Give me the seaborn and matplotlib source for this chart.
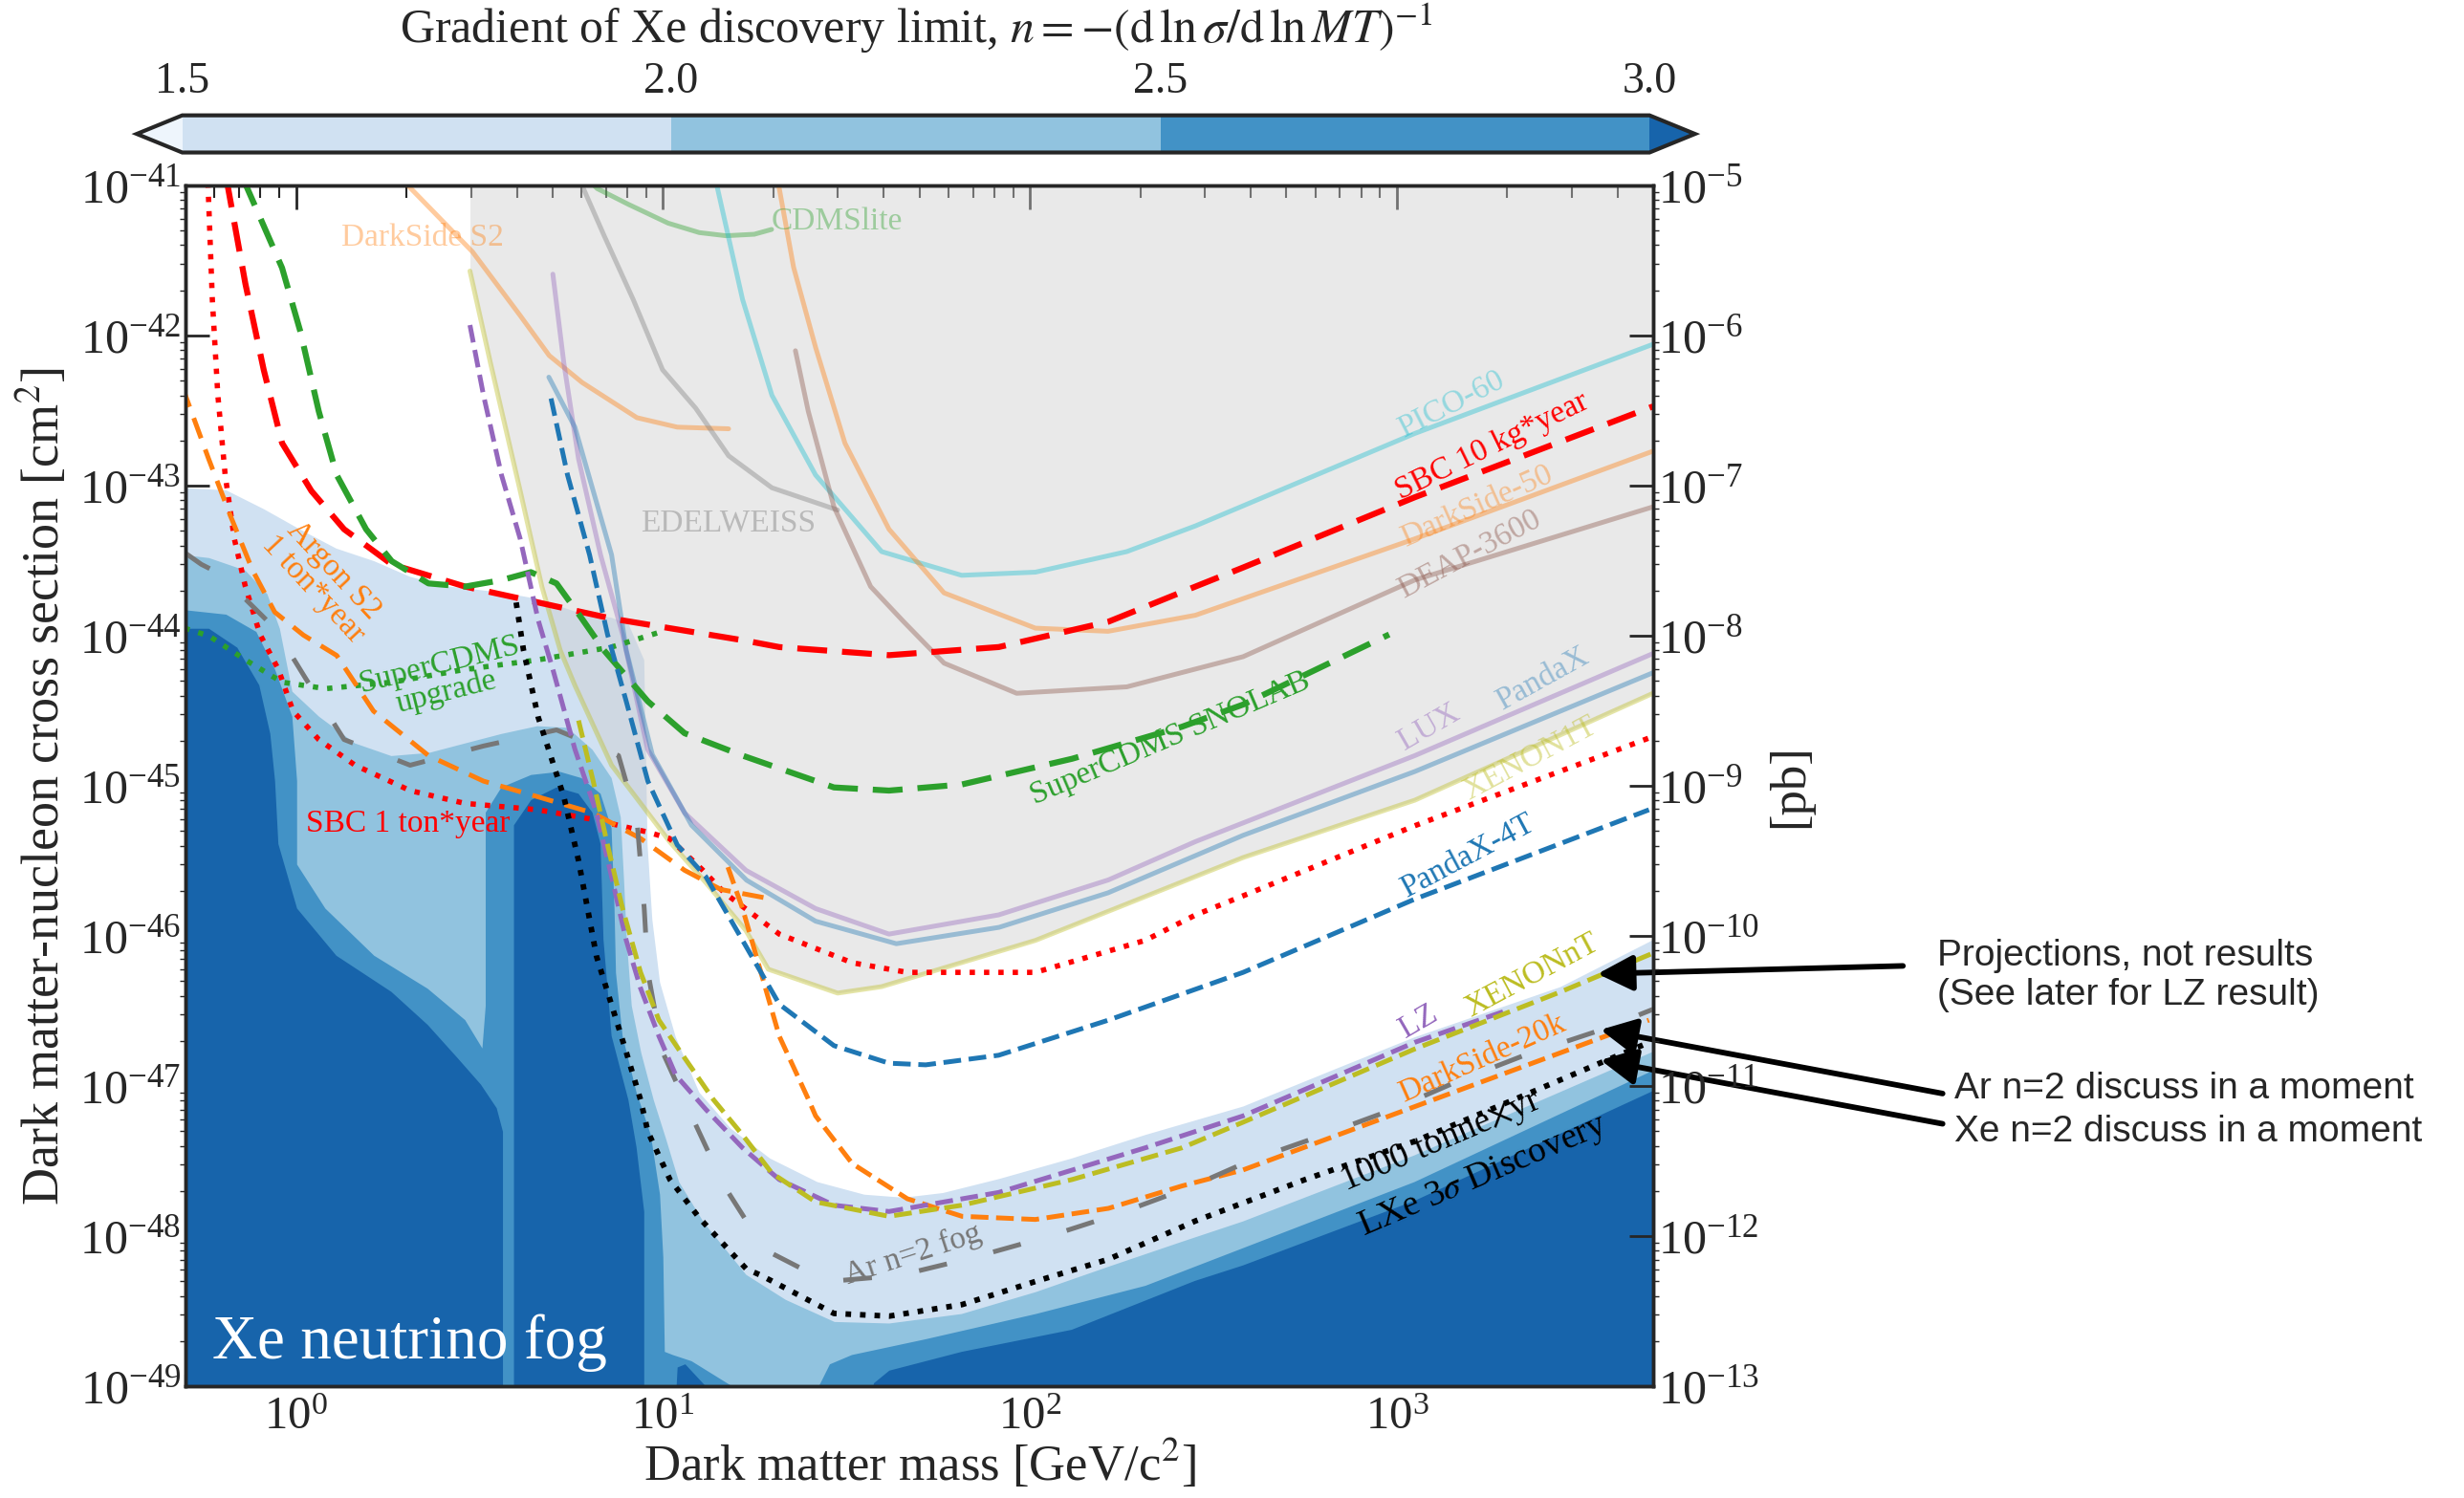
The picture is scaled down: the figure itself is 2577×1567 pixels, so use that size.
import numpy as np
import matplotlib
matplotlib.use("Agg")
import matplotlib.pyplot as plt
import matplotlib.colors as mcolors
import matplotlib.cm as mcm
from matplotlib.ticker import LogLocator, NullFormatter, FormatStrFormatter
import seaborn as sns

sns.set_style("ticks")
plt.rcParams["font.family"] = ["Liberation Serif", "DejaVu Serif"]
plt.rcParams["mathtext.fontset"] = "stix"

# ---------------- data: log10(mass / GeV), log10(sigma / cm^2) ----------------
# neutrino-fog gradient regions (n >= level)
fog15_m = [-0.35, -0.35, -0.190, -0.087, 0.012, 0.110, 0.213, 0.311, 0.410, 0.560, 0.658, 0.760, 0.860, 0.906,
           0.949, 0.953, 0.958, 0.971, 0.992, 1.035, 1.099, 1.185, 1.292, 1.421, 1.549, 1.656, 1.763, 1.917,
           2.114, 2.315, 2.581, 2.834, 3.048, 3.446, 3.699, 3.75, 3.75]
fog15_s = [-49.1, -43.010, -43.031, -43.157, -43.293, -43.419, -43.503, -43.607, -43.670, -43.712, -43.754,
           -43.838, -43.880, -43.921, -44.162, -44.686, -45.387, -45.890, -46.309, -46.675, -47.042, -47.283,
           -47.482, -47.639, -47.723, -47.743, -47.712, -47.618, -47.482, -47.325, -47.136, -46.885, -46.675,
           -46.340, -46.026, -45.98, -49.1]
fog20_m = [-0.35, -0.35, -0.237, -0.138, -0.078, -0.044, -0.010, 0.063, 0.161, 0.260, 0.363, 0.461, 0.560, 0.658,
           0.740, 0.808, 0.860, 0.885, 0.894, 0.902, 0.915, 0.941, 0.975, 1.009, 1.044, 1.112, 1.227, 1.335,
           1.468, 1.617, 1.814, 2.016, 2.213, 2.414, 2.581, 3.048, 3.699, 3.75, 3.75]
fog20_s = [-49.1, -43.450, -43.482, -43.565, -43.723, -43.953, -44.372, -44.539, -44.717, -44.801, -44.780,
           -44.717, -44.654, -44.602, -44.613, -44.759, -44.948, -45.209, -45.628, -46.047, -46.466, -46.780,
           -47.094, -47.356, -47.639, -47.911, -48.257, -48.424, -48.571, -48.581, -48.518, -48.372, -48.204,
           -48.037, -47.901, -47.461, -46.770, -46.72, -49.1]
fog25_m = [-0.35, -0.35, -0.190, -0.108, -0.057, -0.010, 0.003, 0.003, 0.080, 0.213, 0.359, 0.461, 0.508, 0.517,
           0.517, 0.560, 0.641, 0.719, 0.778, 0.830, 0.860, 0.868, 0.872, 0.890, 0.928, 0.967, 0.992, 1.001,
           1.005, 1.027, 1.078, 1.189, 1.206, 1.425, 1.425, 1.455, 1.515, 1.716, 2.016, 2.315, 2.581, 3.048,
           3.699, 3.75, 3.75]
fog25_s = [-49.1, -43.817, -43.859, -43.974, -44.225, -44.539, -44.969, -45.524, -45.817, -46.131, -46.351,
           -46.560, -46.749, -46.466, -45.178, -45.010, -44.927, -44.906, -44.948, -45.052, -45.283, -45.817,
           -46.246, -46.665, -47.042, -47.325, -47.723, -48.141, -48.770, -48.791, -48.832, -49.0, -49.084,
           -49.084, -49.0, -48.853, -48.791, -48.686, -48.518, -48.330, -48.079, -47.639, -46.895, -46.85, -49.1]
fog30a_m = [-0.35, -0.35, -0.237, -0.160, -0.100, -0.070, -0.057, -0.048, 0.003, 0.110, 0.260, 0.359, 0.440,
            0.504, 0.547, 0.564, 0.564]
fog30a_s = [-49.1, -43.953, -43.953, -44.079, -44.330, -44.654, -44.969, -45.387, -45.817, -46.131, -46.372,
            -46.592, -46.812, -46.990, -47.147, -47.304, -49.1]
fog30b_m = [0.594, 0.594, 0.641, 0.710, 0.770, 0.808, 0.830, 0.838, 0.860, 0.906, 0.928, 0.949, 0.949]
fog30b_s = [-49.1, -45.262, -45.094, -45.010, -45.052, -45.178, -45.387, -46.026, -46.665, -47.094, -47.408,
            -47.838, -49.1]
fog30c_m = [1.035, 1.040, 1.061, 1.155]
fog30c_s = [-49.1, -48.874, -48.853, -49.1]
fog30d_m = [1.566, 1.575, 1.617, 1.814, 2.114, 2.449, 2.581, 3.048, 3.699, 3.75, 3.75]
fog30d_s = [-49.1, -48.979, -48.895, -48.770, -48.623, -48.298, -48.194, -47.764, -47.031, -46.98, -49.1]

# colour bar levels
level_bounds = [1.5, 2.0, 2.5, 3.0]
level_colors = ["#d0e1f2", "#91c3df", "#4292c6"]
under_color = "#eef5fc"
over_color = "#1764ab"

# existing limits
darkside_s2_m = [0.285, 0.481, 0.611, 0.690, 0.780, 0.929, 1.039, 1.179]
darkside_s2_s = [-40.95, -41.442, -41.867, -42.133, -42.313, -42.547, -42.610, -42.621]
cdmslite_m = [0.804, 0.821, 0.906, 1.014, 1.099, 1.172, 1.249, 1.296]
cdmslite_s = [-40.979, -41.021, -41.126, -41.251, -41.314, -41.335, -41.325, -41.293]
edelweiss_m = [0.776, 0.840, 0.919, 0.999, 1.089, 1.179, 1.297, 1.476]
edelweiss_s = [-40.98, -41.336, -41.760, -42.228, -42.483, -42.801, -43.014, -43.162]
pico_m = [1.145, 1.217, 1.297, 1.416, 1.596, 1.814, 2.015, 2.264, 2.451, 3.049, 3.698, 3.75]
pico_s = [-40.98, -41.760, -42.398, -42.929, -43.439, -43.597, -43.576, -43.439, -43.268, -42.652, -42.058, -42.01]
darkside50_m = [1.314, 1.356, 1.416, 1.496, 1.616, 1.766, 2.015, 2.213, 2.451, 3.049, 3.698]
darkside50_s = [-40.98, -41.545, -42.079, -42.717, -43.290, -43.714, -43.949, -43.970, -43.863, -43.354, -42.770]
deap_m = [1.361, 1.396, 1.466, 1.566, 1.656, 1.766, 1.964, 2.264, 2.581, 3.049, 3.698]
deap_s = [-42.101, -42.504, -43.141, -43.672, -43.906, -44.182, -44.383, -44.340, -44.139, -43.628, -43.141]
lux_m = [0.700, 0.730, 0.770, 0.830, 0.890, 0.958, 1.059, 1.226, 1.416, 1.616, 1.915, 2.214, 2.451, 3.049, 3.698]
lux_s = [-41.591, -42.185, -42.822, -43.461, -43.991, -44.755, -45.180, -45.562, -45.817, -45.987, -45.859,
         -45.626, -45.371, -44.798, -44.118]
pandax_m = [0.689, 0.760, 0.860, 0.900, 0.971, 1.078, 1.228, 1.416, 1.636, 1.916, 2.213, 2.581, 3.049, 3.698]
pandax_s = [-42.277, -42.610, -43.461, -44.096, -44.791, -45.262, -45.628, -45.901, -46.051, -45.942, -45.712,
            -45.329, -44.904, -44.246]
xenon1t_m = [0.474, 0.530, 0.611, 0.670, 0.720, 0.760, 0.860, 0.959, 1.018, 1.118, 1.226, 1.287, 1.476, 1.596,
             2.015, 2.581, 3.049, 3.698, 3.75]
xenon1t_s = [-41.570, -42.183, -43.035, -43.672, -44.096, -44.330, -44.862, -45.180, -45.371, -45.647, -45.963,
             -46.221, -46.380, -46.337, -46.029, -45.477, -45.095, -44.383, -44.33]

# projections
sbc1_m = [-0.240, -0.228, -0.213, -0.193, -0.168, -0.138, -0.098, -0.048, -0.008, 0.062, 0.161, 0.311, 0.460,
          0.660, 0.809, 0.959, 1.018, 1.109, 1.167, 1.317, 1.516, 1.666, 2.015, 2.314, 2.451, 2.581, 3.049, 3.687]
sbc1_s = [-40.98, -41.760, -42.398, -42.929, -43.354, -43.672, -43.991, -44.224, -44.501, -44.691, -44.862,
          -45.031, -45.116, -45.159, -45.223, -45.308, -45.350, -45.562, -45.711, -45.987, -46.178, -46.242,
          -46.242, -46.029, -45.860, -45.732, -45.265, -44.681]
sbc10_m = [-0.19, -0.138, -0.088, -0.038, 0.042, 0.131, 0.261, 0.461, 0.660, 0.860, 1.018, 1.226, 1.317, 1.616,
           1.915, 2.214, 2.451, 2.581, 3.049, 3.698]
sbc10_s = [-40.95, -41.654, -42.228, -42.716, -43.035, -43.290, -43.524, -43.672, -43.778, -43.885, -43.949,
           -44.033, -44.075, -44.129, -44.075, -43.906, -43.672, -43.545, -43.077, -42.472]
snolab_m = [-0.145, -0.038, 0.012, 0.062, 0.111, 0.191, 0.261, 0.361, 0.461, 0.560, 0.640, 0.710, 0.779, 0.839,
            0.959, 1.059, 1.217, 1.466, 1.616, 1.815, 2.115, 2.414, 2.581, 2.979]
snolab_s = [-40.95, -41.549, -41.974, -42.504, -42.929, -43.290, -43.503, -43.651, -43.672, -43.629, -43.576,
            -43.651, -43.885, -44.096, -44.437, -44.649, -44.798, -45.010, -45.031, -44.990, -44.819, -44.606,
            -44.458, -43.991]
cdms_up_m = [-0.304, -0.237, -0.138, -0.038, 0.081, 0.261, 0.461, 0.660, 0.860, 0.999]
cdms_up_s = [-43.949, -44.001, -44.160, -44.309, -44.352, -44.309, -44.224, -44.160, -44.075, -43.970]
argon_m = [-0.310, -0.238, -0.178, -0.118, -0.058, 0.020, 0.111, 0.211, 0.361, 0.511, 0.660, 0.809, 0.939,
           1.059, 1.158, 1.297]
argon_s = [-42.34, -42.822, -43.205, -43.565, -43.842, -43.995, -44.131, -44.501, -44.798, -44.968, -45.073,
           -45.180, -45.350, -45.562, -45.690, -45.754]
ds20k_m = [1.177, 1.217, 1.267, 1.317, 1.337, 1.397, 1.416, 1.516, 1.666, 1.815, 2.015, 2.214, 2.414, 2.581,
           3.049, 3.687]
ds20k_s = [-45.541, -45.817, -46.242, -46.667, -46.773, -47.091, -47.198, -47.516, -47.750, -47.867, -47.888,
           -47.814, -47.665, -47.558, -47.136, -46.560]
lz_m = [0.474, 0.511, 0.560, 0.611, 0.660, 0.700, 0.760, 0.819, 0.860, 0.900, 0.939, 0.989, 1.035, 1.117, 1.217,
        1.317, 1.466, 1.616, 1.915, 2.314, 2.581, 3.049, 3.298]
lz_s = [-41.930, -42.398, -42.929, -43.354, -43.895, -44.224, -44.755, -45.180, -45.605, -46.029, -46.348,
        -46.667, -46.927, -47.155, -47.411, -47.622, -47.793, -47.835, -47.708, -47.411, -47.198, -46.708, -46.497]
xnt_m = [0.770, 0.810, 0.849, 0.890, 0.939, 0.989, 1.048, 1.138, 1.217, 1.297, 1.416, 1.616, 1.815, 2.115, 2.414,
         2.581, 3.049, 3.448, 3.698]
xnt_s = [-44.564, -44.969, -45.393, -45.817, -46.242, -46.560, -46.773, -47.091, -47.325, -47.580, -47.771,
         -47.867, -47.793, -47.622, -47.411, -47.240, -46.752, -46.370, -46.114]
pandax4t_m = [0.695, 0.740, 0.800, 0.849, 0.900, 0.959, 1.039, 1.117, 1.217, 1.317, 1.466, 1.616, 1.716, 1.915,
              2.214, 2.581, 3.049, 3.687]
pandax4t_s = [-42.419, -42.929, -43.461, -43.991, -44.437, -44.969, -45.393, -45.605, -46.029, -46.454, -46.730,
              -46.847, -46.858, -46.794, -46.560, -46.242, -45.754, -45.159]
tonne_m = [0.600, 0.620, 0.660, 0.730, 0.770, 0.819, 0.900, 0.939, 0.959, 1.019, 1.099, 1.227, 1.267, 1.466,
           1.616, 1.815, 2.015, 2.214, 2.451, 2.750, 3.049, 3.348, 3.548, 3.687]
tonne_s = [-43.778, -44.096, -44.542, -45.073, -45.498, -46.136, -46.773, -47.091, -47.304, -47.622, -47.877,
           -48.217, -48.260, -48.514, -48.532, -48.455, -48.301, -48.153, -47.898, -47.622, -47.367, -47.06,
           -46.852, -46.709]
ar_m = [-0.301, -0.258, -0.208, -0.058, 0.022, 0.131, 0.311, 0.511, 0.710, 0.879, 0.929, 0.949, 0.959, 0.999,
        1.078, 1.167, 1.277, 1.447, 1.646, 1.845, 2.045, 2.234, 2.434, 2.601, 2.800, 2.989, 3.169, 3.348, 3.558,
        3.699]
ar_s = [-43.450, -43.524, -43.586, -43.949, -44.267, -44.691, -44.862, -44.734, -44.627, -44.798, -45.223,
        -45.817, -46.242, -46.773, -47.198, -47.665, -48.089, -48.302, -48.260, -48.142, -48.005, -47.856,
        -47.675, -47.495, -47.325, -47.155, -46.964, -46.794, -46.624, -46.487]

# axis ranges
mass_range = (0.5, 5000.0)
sigma_range = (1e-49, 1e-41)
pb_per_cm2 = 1e36

# labels: text, log10 m, log10 sigma, rotation, colour, alpha, size
labels = [
    ("DarkSide S2", 0.346, -41.346, 0, "#ff7f0e", 0.4, 24),
    ("CDMSlite", 1.474, -41.241, 0, "#2ca02c", 0.4, 24),
    ("EDELWEISS", 1.178, -43.247, 0, "#7f7f7f", 0.45, 24),
    ("PICO-60", 3.149, -42.462, 27, "#17becf", 0.4, 24),
    ("SBC 10 kg*year", 3.259, -42.735, 26, "#ff0000", 1.0, 24),
    ("DarkSide-50", 3.219, -43.141, 24, "#ff7f0e", 0.4, 24),
    ("DEAP-3600", 3.199, -43.460, 28, "#8c564b", 0.45, 24),
    ("LUX", 3.089, -44.606, 30, "#9467bd", 0.45, 24),
    ("PandaX", 3.398, -44.285, 29, "#1f77b4", 0.4, 24),
    ("XENON1T", 3.363, -44.816, 28, "#bcbd22", 0.45, 24),
    ("PandaX-4T", 3.194, -45.467, 28, "#1f77b4", 1.0, 24),
    ("LZ", 3.059, -46.571, 30, "#9467bd", 1.0, 24),
    ("XENONnT", 3.368, -46.263, 28, "#bcbd22", 1.0, 24),
    ("DarkSide-20k", 3.234, -46.816, 24, "#ff7f0e", 1.0, 24),
    ("1000 tonne$\\times$yr", 3.119, -47.367, 23, "#000000", 1.0, 27),
    ("LXe 3$\\sigma$ Discovery", 3.234, -47.601, 23, "#000000", 1.0, 27),
    ("Ar n=2 fog", 1.681, -48.122, 18, "#777777", 1.0, 24),
    ("SuperCDMS SNOLAB", 2.382, -44.681, 23, "#2ca02c", 1.0, 24),
    ("SuperCDMS\nupgrade", 0.40, -44.285, 14, "#2ca02c", 1.0, 24),
    ("Argon S2\n1 ton*year", 0.075, -43.629, -47, "#ff7f0e", 1.0, 24),
    ("SBC 1 ton*year", 0.304, -45.254, 0, "#ff0000", 1.0, 24),
]

# ---------------- figure ----------------
fig = plt.figure(figsize=(25.77, 15.67), dpi=100)
ax = fig.add_axes([0.0753, 0.0745, 0.5957, 0.8017])
ax.set_xscale("log")
ax.set_yscale("log")


def P(a):
    return np.power(10.0, np.asarray(a, dtype=float))


fog_layers = [
    (fog15_m, fog15_s, level_colors[0]),
    (fog20_m, fog20_s, level_colors[1]),
    (fog25_m, fog25_s, level_colors[2]),
    (fog30a_m, fog30a_s, over_color),
    (fog30b_m, fog30b_s, over_color),
    (fog30c_m, fog30c_s, over_color),
    (fog30d_m, fog30d_s, over_color),
]
for lm, ls, col in fog_layers:
    ax.fill(P(lm), P(ls), color=col, lw=0, zorder=1)

# excluded region (above XENON1T)
ax.fill_between(P(xenon1t_m), P(xenon1t_s), sigma_range[1], color="#cfcfcf", alpha=0.45, lw=0, zorder=2)


def draw(lm, ls, **kw):
    sns.lineplot(x=P(lm), y=P(ls), ax=ax, sort=False, estimator=None, errorbar=None, legend=False, **kw)


existing = [
    (darkside_s2_m, darkside_s2_s, "#ff7f0e"),
    (cdmslite_m, cdmslite_s, "#2ca02c"),
    (edelweiss_m, edelweiss_s, "#7f7f7f"),
    (pico_m, pico_s, "#17becf"),
    (darkside50_m, darkside50_s, "#ff7f0e"),
    (deap_m, deap_s, "#8c564b"),
    (lux_m, lux_s, "#9467bd"),
    (pandax_m, pandax_s, "#1f77b4"),
    (xenon1t_m, xenon1t_s, "#bcbd22"),
]
for lm, ls, col in existing:
    draw(lm, ls, color=col, alpha=0.4, linewidth=3.6, zorder=3)

projections = [
    (sbc10_m, sbc10_s, "#ff0000", 4.5, (0, (5, 2.5))),
    (snolab_m, snolab_s, "#2ca02c", 4.5, (0, (5, 2.5))),
    (sbc1_m, sbc1_s, "#ff0000", 4.0, (0, (1, 1.7))),
    (cdms_up_m, cdms_up_s, "#2ca02c", 4.0, (0, (1, 1.7))),
    (argon_m, argon_s, "#ff7f0e", 3.6, (0, (4.5, 2.5))),
    (ds20k_m, ds20k_s, "#ff7f0e", 3.6, (0, (3.7, 1.6))),
    (pandax4t_m, pandax4t_s, "#1f77b4", 3.6, (0, (3.7, 1.6))),
    (ar_m, ar_s, "#777777", 3.6, (0, (6, 10))),
    (tonne_m, tonne_s, "#000000", 4.2, (0, (1, 1.6))),
    (lz_m, lz_s, "#9467bd", 3.6, (0, (3.7, 1.6))),
    (xnt_m, xnt_s, "#bcbd22", 3.6, (0, (3.7, 1.6))),
]
for lm, ls, col, lw, sty in projections:
    draw(lm, ls, color=col, linewidth=lw, linestyle=sty, zorder=4)

for txt, lm, ls, rot, col, al, fs in labels:
    ax.text(P(lm), P(ls), txt, rotation=rot, rotation_mode="anchor", ha="center", va="center",
            color=col, alpha=al, fontsize=fs, zorder=6, linespacing=0.95)

ax.text(P(-0.228), P(-48.707), "Xe neutrino fog", color="white", fontsize=47, ha="left", va="center", zorder=6)

ax.set_xlim(*mass_range)
ax.set_ylim(*sigma_range)

# ticks
ax.xaxis.set_major_locator(LogLocator(base=10, numticks=30))
ax.xaxis.set_minor_locator(LogLocator(base=10, subs=np.arange(2, 10) * 1.0, numticks=30))
ax.xaxis.set_minor_formatter(NullFormatter())
ax.yaxis.set_major_locator(LogLocator(base=10, numticks=30))
ax.yaxis.set_minor_locator(LogLocator(base=10, subs=np.arange(2, 10) * 1.0, numticks=30))
ax.yaxis.set_minor_formatter(NullFormatter())
ax.tick_params(axis="x", which="both", direction="in", top=True, bottom=True)
ax.tick_params(axis="x", which="major", length=18, width=2, labelsize=35, pad=8)
ax.tick_params(axis="x", which="minor", length=9, width=1.5)
ax.tick_params(axis="y", which="major", direction="in", length=18, width=2, labelsize=36, left=True, right=False)
ax.tick_params(axis="y", which="minor", direction="out", length=4, width=1, left=True, right=False)
for sp in ax.spines.values():
    sp.set_linewidth(2.5)
ax.set_xlabel("Dark matter mass [GeV/c$^2$]", fontsize=38, labelpad=-1)
ax.set_ylabel("Dark matter-nucleon cross section [cm$^2$]", fontsize=39, labelpad=6)

ax2 = ax.twinx()
ax2.set_yscale("log")
ax2.set_ylim(sigma_range[0] * pb_per_cm2, sigma_range[1] * pb_per_cm2)
ax2.yaxis.set_major_locator(LogLocator(base=10, numticks=30))
ax2.yaxis.set_minor_locator(LogLocator(base=10, subs=np.arange(2, 10) * 1.0, numticks=30))
ax2.yaxis.set_minor_formatter(NullFormatter())
ax2.tick_params(axis="y", which="major", direction="in", length=18, width=2, labelsize=36)
ax2.tick_params(axis="y", which="minor", direction="out", length=4, width=1)
ax2.set_ylabel("[pb]", fontsize=38, labelpad=6)
for sp in ax2.spines.values():
    sp.set_linewidth(2.5)

# colour bar
cmap = mcolors.ListedColormap(level_colors)
cmap.set_under(under_color)
cmap.set_over(over_color)
norm = mcolors.BoundaryNorm(level_bounds, cmap.N)
cax = fig.add_axes([0.0555, 0.8982, 0.6324, 0.0248])
cb = fig.colorbar(mcm.ScalarMappable(norm=norm, cmap=cmap), cax=cax, orientation="horizontal",
                  extend="both", extendfrac=0.031, ticks=level_bounds)
cb.outline.set_linewidth(3)
cax.xaxis.set_ticks_position("top")
cax.xaxis.set_label_position("top")
cax.xaxis.set_major_formatter(FormatStrFormatter("%.1f"))
cax.tick_params(direction="in", length=16, width=2, labelsize=33, pad=10)
cb.set_label(r"Gradient of Xe discovery limit, $n = -(\mathrm{d}\,\ln\sigma/\mathrm{d}\,\ln MT)^{-1}$",
             fontsize=36, labelpad=14)

# annotations on the right
sans = ["Liberation Sans", "DejaVu Sans"]
arrow_kw = dict(arrowstyle="-|>,head_length=0.75,head_width=0.38", lw=4.2, color="black",
                mutation_scale=30, shrinkA=0, shrinkB=0)
ax.annotate("", xy=(P(3.547), P(-46.252)), xycoords="data", xytext=(0.7723, 0.3552),
            textcoords="figure fraction", arrowprops=arrow_kw, annotation_clip=False, zorder=10)
ax.annotate("", xy=(P(3.555), P(-46.624)), xycoords="data", xytext=(0.7884, 0.2700),
            textcoords="figure fraction", arrowprops=arrow_kw, annotation_clip=False, zorder=10)
ax.annotate("", xy=(P(3.555), P(-46.826)), xycoords="data", xytext=(0.7884, 0.2498),
            textcoords="figure fraction", arrowprops=arrow_kw, annotation_clip=False, zorder=10)
fig.text(0.7861, 0.3488, "Projections, not results\n(See later for LZ result)", family=sans,
         fontsize=28, ha="left", va="center", linespacing=1.2)
fig.text(0.7930, 0.2732, "Ar n=2 discuss in a moment", family=sans, fontsize=28, ha="left", va="center")
fig.text(0.7930, 0.2445, "Xe n=2 discuss in a moment", family=sans, fontsize=28, ha="left", va="center")

fig.savefig("out.png", dpi=100)
